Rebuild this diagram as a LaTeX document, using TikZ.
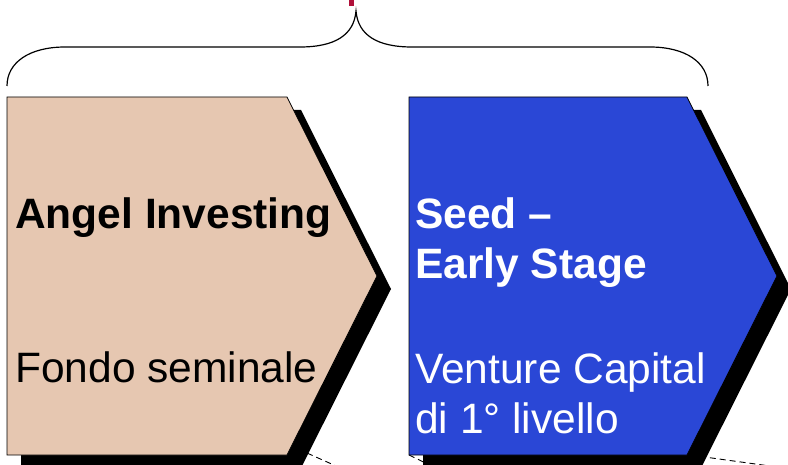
\documentclass[tikz,border=0pt]{standalone}
\usepackage{fontspec}
\setmainfont{Liberation Sans}
\definecolor{angelfill}{HTML}{E6C7B1}
\definecolor{seedfill}{HTML}{2A47D6}
\definecolor{titlered}{HTML}{B0103A}
\tikzset{
  stagebox/.style={draw=black, line width=0.8pt},
  stageshadow/.style={fill=black},
  stagetext/.style={anchor=base west, inner sep=0pt, align=left,
    font=\fontsize{42.5}{50}\selectfont},
  zoomline/.style={dashed, line width=0.9pt, dash pattern=on 6pt off 4pt}
}
\begin{document}
\begin{tikzpicture}[x=1pt, y=-1pt]

  % Frame of the page
  \clip (0,0) rectangle (788,465);

  % Vertices of the left chevron
  \coordinate (A1) at (7, 97);
  \coordinate (A2) at (287, 97);
  \coordinate (A3) at (377, 276);
  \coordinate (A4) at (287, 455);
  \coordinate (A5) at (7, 455);

  % Vertices of the right chevron
  \coordinate (B1) at (409, 97);
  \coordinate (B2) at (687, 97);
  \coordinate (B3) at (777, 276);
  \coordinate (B4) at (687, 455);
  \coordinate (B5) at (409, 455);

  % Dashed lines running off the bottom edge
  \coordinate (L1) at (298, 449);
  \coordinate (L2) at (345, 470);
  \coordinate (R1) at (690, 455);
  \coordinate (R2) at (770, 466);
  \coordinate (M2) at (440, 470);
  \draw[zoomline] (L1) -- (L2);
  \draw[zoomline] (R1) -- (R2);
  \draw[zoomline] (B5) -- (M2);

  % Drop shadows, shifted down and right
  \fill[stageshadow] ([shift={(14,13)}]A1) -- ([shift={(14,13)}]A2) -- ([shift={(14,13)}]A3)
    -- ([shift={(14,13)}]A4) -- ([shift={(14,13)}]A5) -- cycle;
  \fill[stageshadow] ([shift={(14,13)}]B1) -- ([shift={(14,13)}]B2) -- ([shift={(14,13)}]B3)
    -- ([shift={(14,13)}]B4) -- ([shift={(14,13)}]B5) -- cycle;

  % The two chevrons
  \draw[stagebox, fill=angelfill] (A1) -- (A2) -- (A3) -- (A4) -- (A5) -- cycle;
  \draw[stagebox, fill=seedfill] (B1) -- (B2) -- (B3) -- (B4) -- (B5) -- cycle;

  % Curly brace over both chevrons
  \draw[line width=1.2pt]
    (7,86) .. controls (7,62) and (30,47) .. (65,47) -- (300,47)
    .. controls (335,47) and (354,35) .. (356,11)
    .. controls (358,35) and (377,47) .. (412,47) -- (650,47)
    .. controls (685,47) and (708,62) .. (708,86);

  % Bit of the red heading above the brace
  \fill[titlered] (349,0) rectangle (354,6);

  % Labels (base of a two-line label is its last line)
  \node[stagetext] (angel) at (15, 229) {\textbf{Angel Investing}};
  \node[stagetext] (fondo) at (15, 383) {Fondo seminale};
  \node[stagetext, text=white] (seed) at (415, 279) {\textbf{Seed –}\\\textbf{Early Stage}};
  \node[stagetext, text=white] (venture) at (415, 433) {Venture Capital\\di 1° livello};

\end{tikzpicture}
\end{document}
